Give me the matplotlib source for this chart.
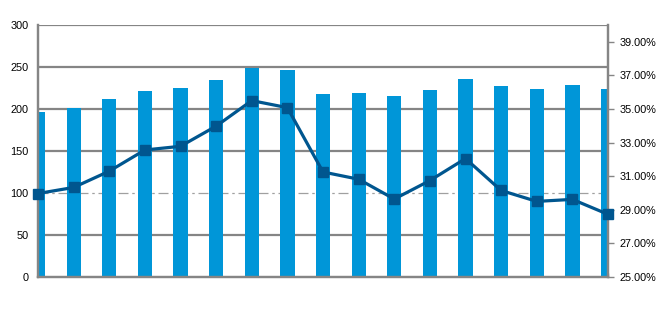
import matplotlib
matplotlib.use("Agg")
import matplotlib.pyplot as plt
import numpy as np

categories = list(range(17))
bar_values = [196, 201, 212, 222, 225, 235, 249, 247, 218, 219, 215, 223, 236, 227, 224, 229, 224]
line_pct = [29.97, 30.33, 31.30, 32.56, 32.78, 33.98, 35.50, 35.08, 31.25, 30.82,
            29.64, 30.74, 32.05, 30.15, 29.50, 29.62, 28.73]
left_ticks = [0, 50, 100, 150, 200, 250, 300]
right_ticks = [25, 27, 29, 31, 33, 35, 37, 39]
reference_value = 100

plt.rcParams['font.family'] = ['Liberation Sans', 'DejaVu Sans']

fig = plt.figure(figsize=(6.58, 3.34), dpi=100)
ax = fig.add_axes([38/658, 1-277/334, (608-38)/658, (277-25)/334])
ax2 = ax.twinx()

grid_c = '#858585'
ax.set_xlim(0, 16)
ax.set_ylim(0, 300)
for v in left_ticks[1:]:
    if v == reference_value:
        ax.axhline(v, color='#a0a0a0', lw=0.9, dashes=(8, 3, 2, 3), zorder=0)
    else:
        ax.axhline(v, color=grid_c, lw=1.6, zorder=0)

x = np.array(categories)
ax.bar(x, bar_values, width=0.4, color='#0096D8', zorder=2)

ax2.set_ylim(25, 40)
ax2.plot(x, line_pct, color='#00568F', lw=2.3, marker='s', markersize=7.5,
         markerfacecolor='#00568F', markeredgecolor='#00568F', zorder=5, clip_on=False)

ax.set_yticks(left_ticks)
ax.set_yticklabels([str(v) for v in left_ticks])
ax.tick_params(axis='y', length=0, labelsize=7.8, pad=7, colors='black')
ax.set_xticks(x)
ax.set_xticklabels([])
ax.tick_params(axis='x', direction='in', length=3, width=1, color=grid_c)

ax2.set_yticks(right_ticks)
ax2.set_yticklabels([f"{v:.2f}%" for v in right_ticks])
ax2.tick_params(axis='y', direction='out', length=4, width=1, color=grid_c,
                labelsize=7.8, pad=4, labelcolor='black')

for a in (ax, ax2):
    a.spines['top'].set_visible(False)
    for s in ['left', 'bottom', 'right']:
        a.spines[s].set_color(grid_c)
        a.spines[s].set_linewidth(1.6)
ax.set_zorder(1)
ax2.set_zorder(2)
ax2.patch.set_visible(False)

fig.savefig("out.png", dpi=100)
